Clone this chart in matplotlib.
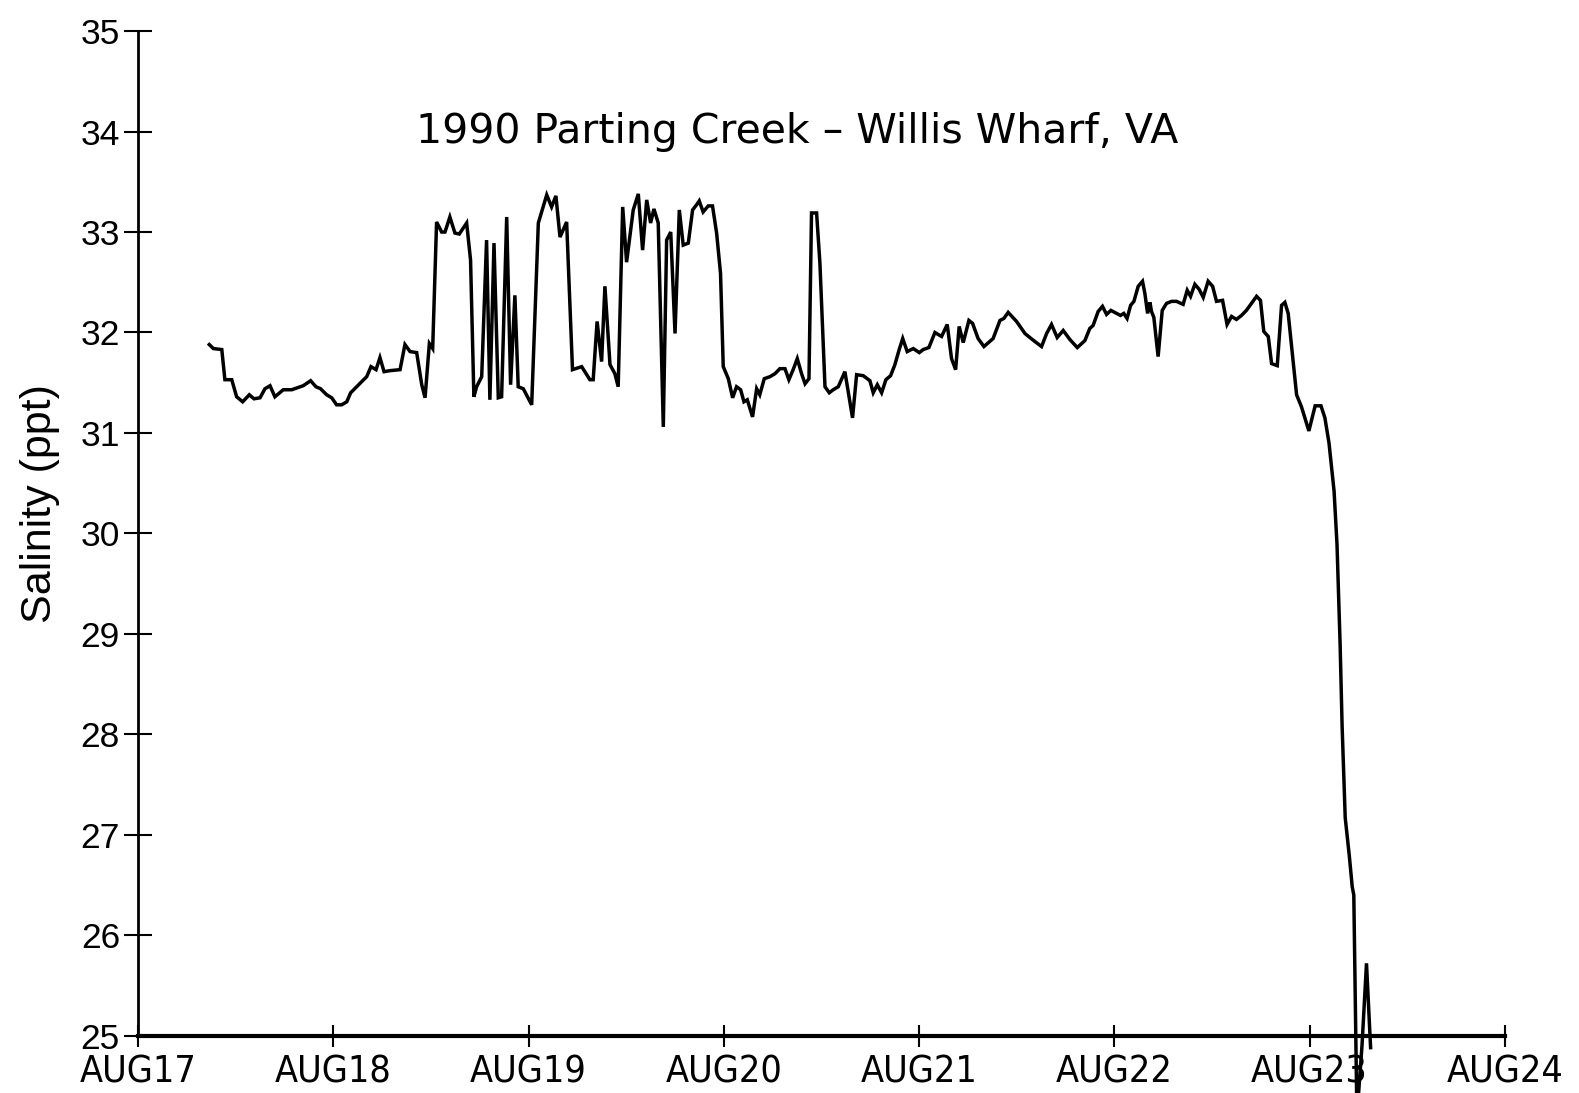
import os
import matplotlib
matplotlib.use("Agg")
import matplotlib.pyplot as plt
from matplotlib import font_manager
from matplotlib.font_manager import FontProperties

# Salinity record, fractional day of August 1990
day = [
    17.365, 17.386, 17.429, 17.445, 17.480, 17.505, 17.536, 17.570, 17.594, 17.625,
    17.650, 17.676, 17.701, 17.744, 17.787, 17.816, 17.846, 17.884, 17.911, 17.935,
    17.966, 17.992, 18.017, 18.043, 18.069, 18.089, 18.120, 18.145, 18.171, 18.193,
    18.219, 18.239, 18.260, 18.290, 18.342, 18.367, 18.393, 18.427, 18.453, 18.470,
    18.492, 18.509, 18.529, 18.555, 18.572, 18.597, 18.623, 18.645, 18.683, 18.703,
    18.720, 18.734, 18.760, 18.785, 18.802, 18.823, 18.845, 18.862, 18.888, 18.908,
    18.930, 18.947, 18.973, 19.016, 19.050, 19.093, 19.118, 19.140, 19.161, 19.195,
    19.225, 19.272, 19.314, 19.331, 19.351, 19.374, 19.391, 19.417, 19.442, 19.459,
    19.482, 19.502, 19.536, 19.562, 19.584, 19.605, 19.625, 19.642, 19.664, 19.690,
    19.707, 19.728, 19.750, 19.772, 19.792, 19.818, 19.840, 19.860, 19.874, 19.894,
    19.920, 19.942, 19.963, 19.983, 19.997, 20.023, 20.045, 20.065, 20.086, 20.103,
    20.120, 20.147, 20.168, 20.184, 20.207, 20.236, 20.262, 20.287, 20.313, 20.333,
    20.355, 20.376, 20.398, 20.416, 20.436, 20.449, 20.475, 20.492, 20.518, 20.540,
    20.560, 20.586, 20.620, 20.659, 20.680, 20.714, 20.748, 20.765, 20.786, 20.808,
    20.830, 20.854, 20.876, 20.898, 20.916, 20.939, 20.970, 21.001, 21.021, 21.050,
    21.081, 21.115, 21.144, 21.166, 21.187, 21.205, 21.226, 21.255, 21.274, 21.302,
    21.332, 21.379, 21.414, 21.434, 21.456, 21.499, 21.542, 21.567, 21.593, 21.627,
    21.653, 21.678, 21.707, 21.738, 21.772, 21.810, 21.849, 21.874, 21.891, 21.917,
    21.939, 21.960, 21.982, 22.011, 22.031, 22.048, 22.065, 22.083, 22.100, 22.122,
    22.144, 22.156, 22.170, 22.182, 22.190, 22.202, 22.224, 22.245, 22.267, 22.293,
    22.318, 22.352, 22.373, 22.390, 22.412, 22.434, 22.455, 22.480, 22.503, 22.523,
    22.554, 22.577, 22.600, 22.625, 22.651, 22.676, 22.702, 22.728, 22.748, 22.765,
    22.788, 22.805, 22.834, 22.856, 22.873, 22.890, 22.933, 22.958, 22.996, 23.028,
    23.058, 23.078, 23.099, 23.125, 23.140, 23.156, 23.166, 23.182, 23.203, 23.218,
    23.226, 23.242, 23.268, 23.291, 23.312,
]
salinity = [
    31.88, 31.84, 31.83, 31.53, 31.53, 31.36, 31.31, 31.38, 31.34, 31.35,
    31.44, 31.47, 31.36, 31.43, 31.43, 31.45, 31.47, 31.52, 31.46, 31.44,
    31.38, 31.35, 31.28, 31.28, 31.31, 31.40, 31.46, 31.51, 31.56, 31.66,
    31.63, 31.75, 31.61, 31.62, 31.63, 31.88, 31.81, 31.80, 31.48, 31.35,
    31.89, 31.84, 33.10, 33.00, 33.00, 33.15, 32.99, 32.98, 33.09, 32.72,
    31.36, 31.46, 31.56, 32.92, 31.33, 32.89, 31.35, 31.36, 33.15, 31.48,
    32.37, 31.46, 31.44, 31.28, 33.09, 33.37, 33.25, 33.36, 32.95, 33.10,
    31.63, 31.66, 31.53, 31.53, 32.11, 31.71, 32.46, 31.68, 31.59, 31.46,
    33.25, 32.70, 33.22, 33.38, 32.82, 33.32, 33.09, 33.23, 33.09, 31.06,
    32.92, 33.00, 31.99, 33.22, 32.87, 32.89, 33.22, 33.27, 33.31, 33.20,
    33.26, 33.26, 32.99, 32.59, 31.66, 31.54, 31.35, 31.46, 31.43, 31.31,
    31.33, 31.16, 31.44, 31.38, 31.54, 31.56, 31.59, 31.64, 31.64, 31.53,
    31.63, 31.74, 31.59, 31.49, 31.54, 33.19, 33.19, 32.69, 31.46, 31.40,
    31.43, 31.46, 31.61, 31.15, 31.58, 31.57, 31.52, 31.40, 31.48, 31.40,
    31.53, 31.57, 31.68, 31.83, 31.94, 31.81, 31.84, 31.80, 31.83, 31.85,
    32.00, 31.96, 32.08, 31.74, 31.63, 32.06, 31.90, 32.12, 32.09, 31.94,
    31.86, 31.94, 32.12, 32.14, 32.20, 32.11, 31.99, 31.95, 31.91, 31.86,
    31.99, 32.08, 31.95, 32.02, 31.93, 31.85, 31.92, 32.04, 32.07, 32.21,
    32.26, 32.18, 32.22, 32.19, 32.17, 32.19, 32.14, 32.27, 32.31, 32.46,
    32.51, 32.39, 32.19, 32.30, 32.21, 32.15, 31.76, 32.22, 32.29, 32.31,
    32.31, 32.28, 32.42, 32.36, 32.48, 32.43, 32.35, 32.51, 32.46, 32.31,
    32.32, 32.08, 32.16, 32.13, 32.17, 32.22, 32.29, 32.36, 32.32, 32.01,
    31.96, 31.69, 31.67, 32.27, 32.30, 32.19, 31.38, 31.26, 31.02, 31.27,
    31.27, 31.15, 30.90, 30.42, 29.89, 28.89, 28.09, 27.17, 26.79, 26.48,
    26.40, 24.20, 24.90, 25.72, 24.88,
]

x_ticks = [17, 18, 19, 20, 21, 22, 23, 24]
x_labels = ["AUG17", "AUG18", "AUG19", "AUG20", "AUG21", "AUG22", "AUG23", "AUG24"]
y_ticks = [25, 26, 27, 28, 29, 30, 31, 32, 33, 34, 35]

title = "1990 Parting Creek \u2013 Willis Wharf, VA"
y_label = "Salinity (ppt)"


def find_narrow_face():
    """Return the file of a regular-weight narrow/condensed sans face, if any."""
    preferred = ["LiberationSansNarrow-Regular", "DejaVuSansCondensed.",
                 "RobotoCondensed-Regular", "OpenSans_Condensed-Regular",
                 "OpenSansCondensed-Regular", "NotoSans-CondensedRegular",
                 "NotoSans-Condensed."]
    files = [f.fname for f in font_manager.fontManager.ttflist]
    for key in preferred:
        for path in files:
            if key in os.path.basename(path):
                return path
    for path in files:
        base = os.path.basename(path)
        if (("Narrow" in base or "Condensed" in base)
                and not any(w in base for w in ("Bold", "Italic", "Oblique", "Light",
                                                "Thin", "Black", "Medium", "Semi",
                                                "Extra", "Mono", "Serif"))):
            return path
    return None


installed = {f.name for f in font_manager.fontManager.ttflist}
num_font = "Liberation Sans" if "Liberation Sans" in installed else "DejaVu Sans"

narrow_path = find_narrow_face()
if narrow_path is not None:
    date_props = FontProperties(fname=narrow_path, size=27)
    date_pad = 5.5
else:
    date_props = FontProperties(family=num_font, size=23.5)
    date_pad = 6.5

fig = plt.figure(figsize=(15.79, 10.93), dpi=100)
ax = fig.add_axes([0.0874, 0.0525, 0.9531 - 0.0874, 0.9715 - 0.0525])

ax.plot(day, salinity, color="black", lw=2.5, solid_joinstyle="miter", clip_on=False)

ax.set_xlim(17, 24)
ax.set_ylim(25, 35)

for side in ("top", "right"):
    ax.spines[side].set_visible(False)
ax.spines["left"].set_linewidth(2.0)
ax.spines["bottom"].set_linewidth(3.0)

ax.set_xticks(x_ticks)
ax.set_xticklabels(x_labels)
for lbl in ax.get_xticklabels():
    lbl.set_fontproperties(date_props)
ax.set_yticks(y_ticks)
ax.set_yticklabels([str(v) for v in y_ticks], fontfamily=num_font, fontsize=25.5)

ax.tick_params(axis="x", direction="inout", length=16, width=1.5, pad=date_pad)
ax.tick_params(axis="y", direction="inout", length=20, width=1.5, pad=3)

ax.text(0.482, 0.90, title, transform=ax.transAxes, ha="center", va="center",
        fontfamily="DejaVu Sans", fontsize=29.5)

fig.text(40 / 1579, 1 - 504 / 1093, y_label, rotation=90, ha="center", va="center",
         fontfamily=num_font, fontsize=31)

fig.savefig("out.png", dpi=100, facecolor="white")
